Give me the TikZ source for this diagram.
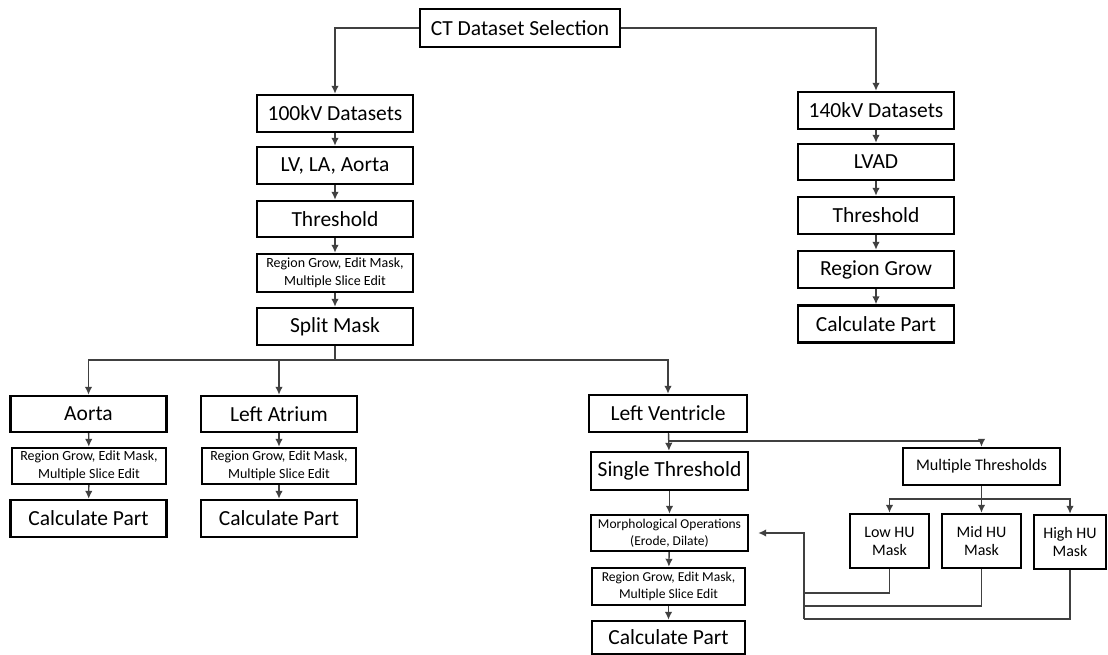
\documentclass[tikz,border=0pt]{standalone}
\usepackage{fontspec}
\setmainfont{Carlito}
\usetikzlibrary{arrows.meta}

\tikzset{
  box/.style={draw=black, line width=2.4pt, inner sep=0pt, align=center,
    minimum width=156pt, minimum height=37pt, font=\fontsize{21.5}{24}\selectfont},
  smallbox/.style={box, font=\fontsize{14}{17.5}\selectfont},
  hubox/.style={box, minimum width=79pt, minimum height=54pt, font=\fontsize{16}{18}\selectfont},
  conn/.style={draw=black!75, line width=1.4pt, -{Latex[length=8pt,width=7.5pt]}},
  link/.style={draw=black!75, line width=1.4pt},
}

\begin{document}
\begin{tikzpicture}[x=1pt, y=-1pt]
\useasboundingbox (0,0) rectangle (1108,655);

\node[box, minimum width=200pt, minimum height=38pt] (ct) at (520,28) {CT Dataset Selection};

% 100kV column
\node[box] (kv100) at (335,113.5) {100kV Datasets};
\node[box] (lvla) at (335,165.5) {LV, LA, Aorta};
\node[box, minimum height=36pt] (thrA) at (335,219) {Threshold};
\node[smallbox, minimum height=38pt] (growA) at (335,273) {Region Grow, Edit Mask,\\Multiple Slice Edit};
\node[box] (split) at (335,326.5) {Split Mask};

% 140kV column
\node[box] (kv140) at (876,110.5) {140kV Datasets};
\node[box, minimum height=36pt] (lvad) at (876,162) {LVAD};
\node[box] (thrB) at (876,215.5) {Threshold};
\node[box] (growB) at (876,269.5) {Region Grow};
\node[box] (calcB) at (876,324) {Calculate Part};

% split mask branches
\node[box, minimum height=36pt] (aorta) at (88.5,414) {Aorta};
\node[smallbox, minimum width=154pt, minimum height=36pt] (growAo) at (89,466) {Region Grow, Edit Mask,\\Multiple Slice Edit};
\node[box] (calcAo) at (88.5,518.5) {Calculate Part};

\node[box, minimum height=36pt] (atrium) at (279,414) {Left Atrium};
\node[smallbox, minimum width=154pt, minimum height=36pt] (growLa) at (279,466) {Region Grow, Edit Mask,\\Multiple Slice Edit};
\node[box] (calcLa) at (279,518.5) {Calculate Part};

\node[box, minimum width=158pt] (ventr) at (668,413.5) {Left Ventricle};
\node[box, minimum width=157pt, minimum height=38pt] (single) at (669.5,471) {Single Threshold};
\node[smallbox, minimum width=157pt, minimum height=36pt, font=\fontsize{13.5}{17}\selectfont] (morph) at (669.5,533) {Morphological Operations\\(Erode, Dilate)};
\node[smallbox, minimum width=153pt, minimum height=37pt, font=\fontsize{13.6}{17.5}\selectfont] (growLv) at (668.5,586.5) {Region Grow, Edit Mask,\\Multiple Slice Edit};
\node[box, minimum width=153pt, minimum height=33pt] (calcLv) at (668.5,637.5) {Calculate Part};

% multiple thresholds
\node[box, minimum width=157pt, minimum height=37pt, font=\fontsize{16.2}{18}\selectfont] (multi) at (981.5,466.5) {Multiple Thresholds};
\node[hubox] (low) at (889.5,541) {Low HU\\Mask};
\node[hubox] (mid) at (981.5,541) {Mid HU\\Mask};
\node[hubox, minimum width=72pt] (high) at (1070,542) {High HU\\Mask};

% junctions
\coordinate (splitjoin) at (335,360);
\coordinate (ventrjoin) at (668,441);
\coordinate (multijoin) at (981.5,499);
\coordinate (lowret) at (804,593);
\coordinate (midret) at (804,606);
\coordinate (highret) at (804,619);

% connectors
\draw[conn] (ct.west) -| (kv100.north);
\draw[conn] (ct.east) -| (kv140.north);
\draw[conn] (kv100) -- (lvla);
\draw[conn] (lvla) -- (thrA);
\draw[conn] (thrA) -- (growA);
\draw[conn] (growA) -- (split);
\draw[conn] (kv140) -- (lvad);
\draw[conn] (lvad) -- (thrB);
\draw[conn] (thrB) -- (growB);
\draw[conn] (growB) -- (calcB);

\draw[link] (split.south) -- (splitjoin);
\draw[conn] (splitjoin) -| (aorta.north);
\draw[conn] (splitjoin) -| (atrium.north);
\draw[conn] (splitjoin) -| (ventr.north);
\draw[conn] (aorta) -- (growAo);
\draw[conn] (growAo) -- (calcAo);
\draw[conn] (atrium) -- (growLa);
\draw[conn] (growLa) -- (calcLa);

\draw[conn] (ventr) -- (single);
\draw[conn] (ventrjoin) -| (multi.north);
\draw[conn] (single) -- (morph);
\draw[conn] (morph) -- (growLv);
\draw[conn] (growLv) -- (calcLv);

\draw[link] (multi.south) -- (multijoin);
\draw[conn] (multijoin) -| (low.north);
\draw[conn] (multijoin) -| (mid.north);
\draw[conn] (multijoin) -| (high.north);

\draw[link] (low.south) |- (lowret);
\draw[link] (mid.south) |- (midret);
\draw[link] (high.south) |- (highret);
\draw[conn, shorten >=9pt] (highret) |- (morph.east);
\end{tikzpicture}
\end{document}
